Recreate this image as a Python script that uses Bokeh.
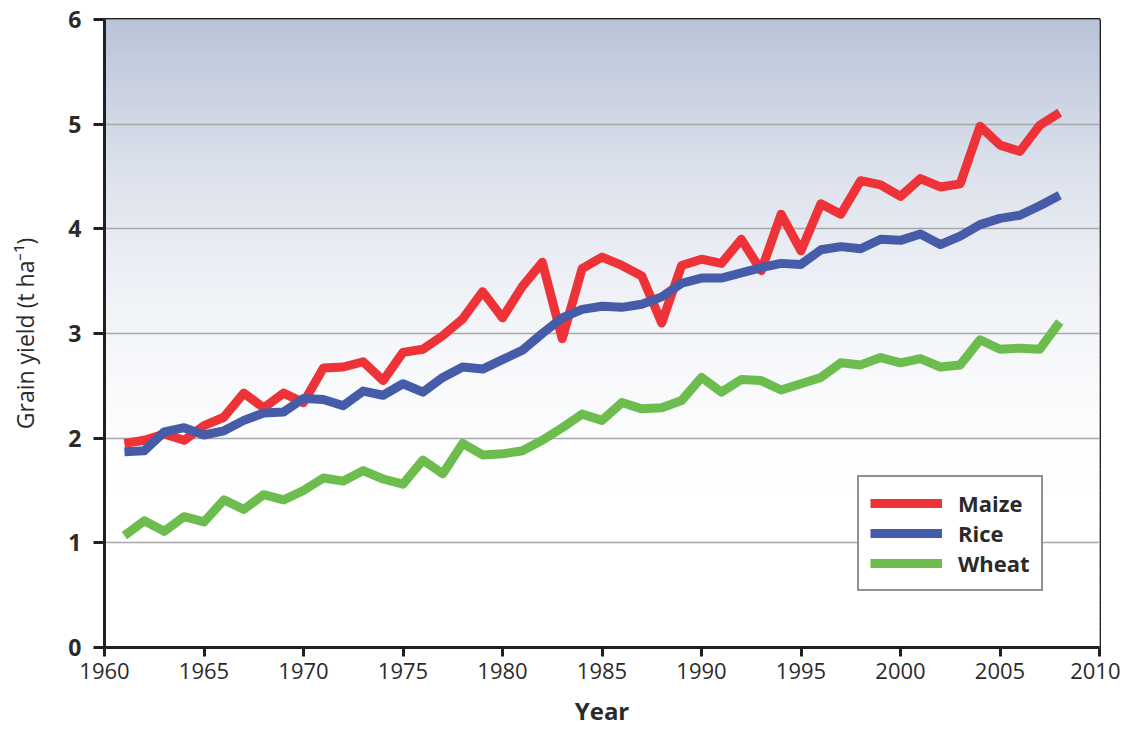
from bokeh.plotting import figure
from bokeh.models import Range1d, FixedTicker, Legend, LegendItem
from bokeh.embed import file_html
from bokeh.resources import INLINE
import numpy as np

years = list(range(1961, 2009))
maize = [1.95, 1.98, 2.04, 1.98, 2.12, 2.20, 2.43, 2.29, 2.43, 2.34,
         2.67, 2.68, 2.73, 2.55, 2.82, 2.85, 2.98, 3.14, 3.40, 3.15,
         3.45, 3.68, 2.95, 3.62, 3.73, 3.65, 3.55, 3.10, 3.65, 3.71,
         3.67, 3.90, 3.60, 4.14, 3.79, 4.24, 4.14, 4.46, 4.42, 4.31,
         4.48, 4.40, 4.43, 4.98, 4.80, 4.74, 4.99, 5.11]
rice = [1.87, 1.88, 2.06, 2.10, 2.03, 2.07, 2.17, 2.24, 2.25, 2.38,
        2.37, 2.31, 2.45, 2.41, 2.52, 2.44, 2.58, 2.68, 2.66, 2.75,
        2.84, 3.00, 3.15, 3.23, 3.26, 3.25, 3.28, 3.35, 3.48, 3.53,
        3.53, 3.58, 3.63, 3.67, 3.66, 3.80, 3.83, 3.81, 3.90, 3.89,
        3.95, 3.85, 3.93, 4.04, 4.10, 4.13, 4.22, 4.32]
wheat = [1.07, 1.21, 1.11, 1.25, 1.20, 1.41, 1.32, 1.46, 1.41, 1.50,
         1.62, 1.59, 1.69, 1.61, 1.56, 1.79, 1.66, 1.95, 1.84, 1.85,
         1.88, 1.98, 2.10, 2.23, 2.17, 2.34, 2.28, 2.29, 2.36, 2.58,
         2.44, 2.56, 2.55, 2.46, 2.52, 2.58, 2.72, 2.70, 2.77, 2.72,
         2.76, 2.68, 2.70, 2.94, 2.85, 2.86, 2.85, 3.11]
series_names = ["Maize", "Rice", "Wheat"]
series_colors = ["#ee3338", "#465ca8", "#6cbd4e"]
x_ticks = [1960, 1965, 1970, 1975, 1980, 1985, 1990, 1995, 2000, 2005, 2010]
y_ticks = [0, 1, 2, 3, 4, 5, 6]

X0, X1, Y0, Y1 = 1960, 2010, 0, 6
DARK = "#231f20"
TXT = "#2a2a2a"

p = figure(width=1120, height=729, output_backend="svg", toolbar_location=None,
           x_range=Range1d(X0, X1), y_range=Range1d(Y0, Y1),
           min_border_left=104, min_border_right=21, min_border_top=19,
           min_border_bottom=80)
p.background_fill_color = "white"
p.border_fill_color = "white"

# gradient background (decoration)
n = 120
edges = np.linspace(Y0, Y1, n + 1)
mids = (edges[:-1] + edges[1:]) / 2
top_rgb = np.array([184, 195, 216])
cols = []
for v in mids:
    t = min(max((v - 1.0) / 5.0, 0.0), 1.0) ** 2
    c = 255 - (255 - top_rgb) * t
    cols.append("#%02x%02x%02x" % tuple(int(round(k)) for k in c))
p.quad(left=X0, right=X1, bottom=edges[:-1], top=edges[1:], fill_color=cols,
       line_color=cols, line_width=1, level="image")

renderers = []
for name, vals, col in zip(series_names, [maize, rice, wheat], series_colors):
    r = p.line(years, vals, line_color=col, line_width=9, line_join="round",
               line_cap="butt")
    renderers.append((name, r))

# grid
p.xgrid.visible = False
p.ygrid.ticker = FixedTicker(ticks=[1, 2, 3, 4, 5])
p.ygrid.grid_line_color = "#a8a8a8"
p.ygrid.grid_line_width = 1.6

p.outline_line_color = DARK
p.outline_line_width = 3

p.xaxis.ticker = FixedTicker(ticks=x_ticks)
p.yaxis.ticker = FixedTicker(ticks=y_ticks)
for ax in (p.xaxis[0], p.yaxis[0]):
    ax.axis_line_color = DARK
    ax.axis_line_width = 3
    ax.major_tick_line_color = DARK
    ax.major_tick_line_width = 3
    ax.major_tick_in = 0
    ax.minor_tick_line_color = None
    ax.major_label_text_color = TXT
    ax.axis_label_text_color = TXT
    ax.axis_label_text_font = "Open Sans"
    ax.major_label_text_font = "Open Sans"

p.xaxis.major_tick_out = 9
p.yaxis.major_tick_out = 11
p.xaxis.major_label_text_font_size = "22px"
p.xaxis.major_label_standoff = 6
p.yaxis.major_label_text_font_size = "23px"
p.yaxis.major_label_text_font_style = "bold"
p.yaxis.major_label_standoff = 12

p.xaxis.axis_label = "Year"
p.xaxis.axis_label_text_font_size = "24px"
p.xaxis.axis_label_text_font_style = "bold"
p.xaxis.axis_label_standoff = 12
p.yaxis.axis_label = "Grain yield (t ha\u207b\u00b9)"
p.yaxis.axis_label_text_font_size = "23px"
p.yaxis.axis_label_text_font_style = "normal"
p.yaxis.axis_label_standoff = 24

legend = Legend(items=[LegendItem(label=nm, renderers=[r]) for nm, r in renderers],
                location=(753, 56))
legend.glyph_width = 72
legend.glyph_height = 24
legend.label_height = 24
legend.spacing = 0
legend.padding = 11
legend.margin = 0
legend.label_standoff = 16
legend.label_text_font = "Open Sans"
legend.label_text_font_size = "22px"
legend.label_text_font_style = "bold"
legend.label_text_color = TXT
legend.border_line_color = DARK
legend.border_line_width = 2.5
legend.background_fill_color = "white"
legend.background_fill_alpha = 1
p.add_layout(legend)

open("out.html", "w").write(file_html(p, INLINE))
